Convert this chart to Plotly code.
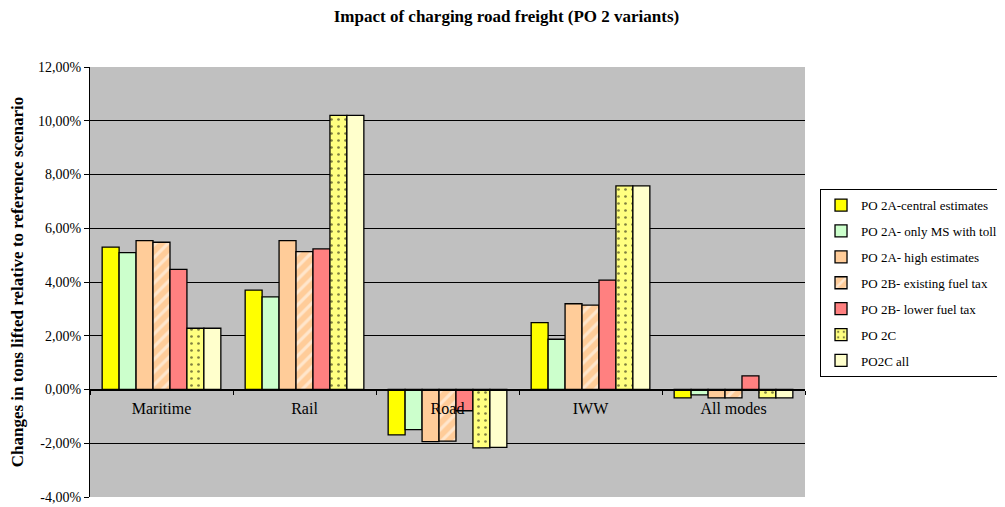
import plotly.graph_objects as go

categories = ["Maritime", "Rail", "Road", "IWW", "All modes"]
series_names = [
    "PO 2A-central estimates",
    "PO 2A- only MS with toll",
    "PO 2A- high estimates",
    "PO 2B- existing fuel tax",
    "PO 2B- lower fuel tax",
    "PO 2C",
    "PO2C all",
]
po2a_central = [5.30, 3.70, -1.69, 2.49, -0.31]
po2a_ms_toll = [5.09, 3.45, -1.49, 1.87, -0.20]
po2a_high = [5.54, 5.54, -1.94, 3.19, -0.31]
po2b_existing = [5.48, 5.13, -1.92, 3.14, -0.31]
po2b_lower = [4.47, 5.23, -0.79, 4.07, 0.51]
po2c = [2.28, 10.20, -2.17, 7.58, -0.31]
po2c_all = [2.28, 10.20, -2.15, 7.58, -0.31]
y_ticks = [-4, -2, 0, 2, 4, 6, 8, 10, 12]
y_tick_labels = ["-4,00%", "-2,00%", "0,00%", "2,00%", "4,00%", "6,00%", "8,00%", "10,00%", "12,00%"]

series_values = [po2a_central, po2a_ms_toll, po2a_high, po2b_existing,
                 po2b_lower, po2c, po2c_all]
colors = ["#FFFF00", "#CCFFCC", "#FFCC99", "#FFCC99", "#FF8080", "#FFFF80", "#FFFFCC"]
patterns = [None, None, None,
            dict(shape="/", fgcolor="white", bgcolor="#FFCC99", size=9, solidity=0.35),
            None,
            dict(shape=".", fgcolor="black", bgcolor="#FFFF80", size=7, solidity=0.12),
            None]

fig = go.Figure()
for i, (name, vals, col, pat) in enumerate(zip(series_names, series_values, colors, patterns)):
    marker = dict(color=col, line=dict(color="black", width=1.3))
    if pat:
        marker["pattern"] = pat
    fig.add_trace(go.Bar(name=name, x=categories, y=vals, marker=marker, legendgroup=f"g{i}"))

fig.update_layout(
    width=997, height=499,
    barmode="group", bargap=0.17, bargroupgap=0,
    plot_bgcolor="#C0C0C0", paper_bgcolor="white",
    margin=dict(l=82, r=200, t=59, b=10, autoexpand=False),
    font=dict(family="Liberation Serif", size=14, color="black"),
    title=dict(text="<b>Impact of charging road freight (PO 2 variants)</b>",
               x=0.5, xref="container", xanchor="center", y=0.995, yanchor="top",
               font=dict(size=17, family="Liberation Serif")),
    legend=dict(x=1.021, y=0.716, xanchor="left", yanchor="top",
                bordercolor="black", borderwidth=1, bgcolor="white",
                font=dict(size=13, family="Liberation Serif"), tracegroupgap=6,
                itemwidth=30),
    xaxis=dict(anchor="free", position=0.25, showline=True, linecolor="black", linewidth=1,
               ticks="outside", tickson="boundaries", ticklen=4, tickcolor="black",
               showgrid=False, tickfont=dict(size=16), automargin=False,
               ticklabelstandoff=4),
    yaxis=dict(range=[-4, 12], tickvals=y_ticks, ticktext=y_tick_labels,
               showgrid=True, gridcolor="black", gridwidth=1, zeroline=False,
               showline=True, linecolor="black", linewidth=1, ticks="outside", ticklen=5,
               tickcolor="black", tickfont=dict(size=14), automargin=False,
               title=dict(text="<b>Changes in tons lifted relative to reference scenario</b>",
                          font=dict(size=17), standoff=12)),
)
fig.write_html("out.html")
